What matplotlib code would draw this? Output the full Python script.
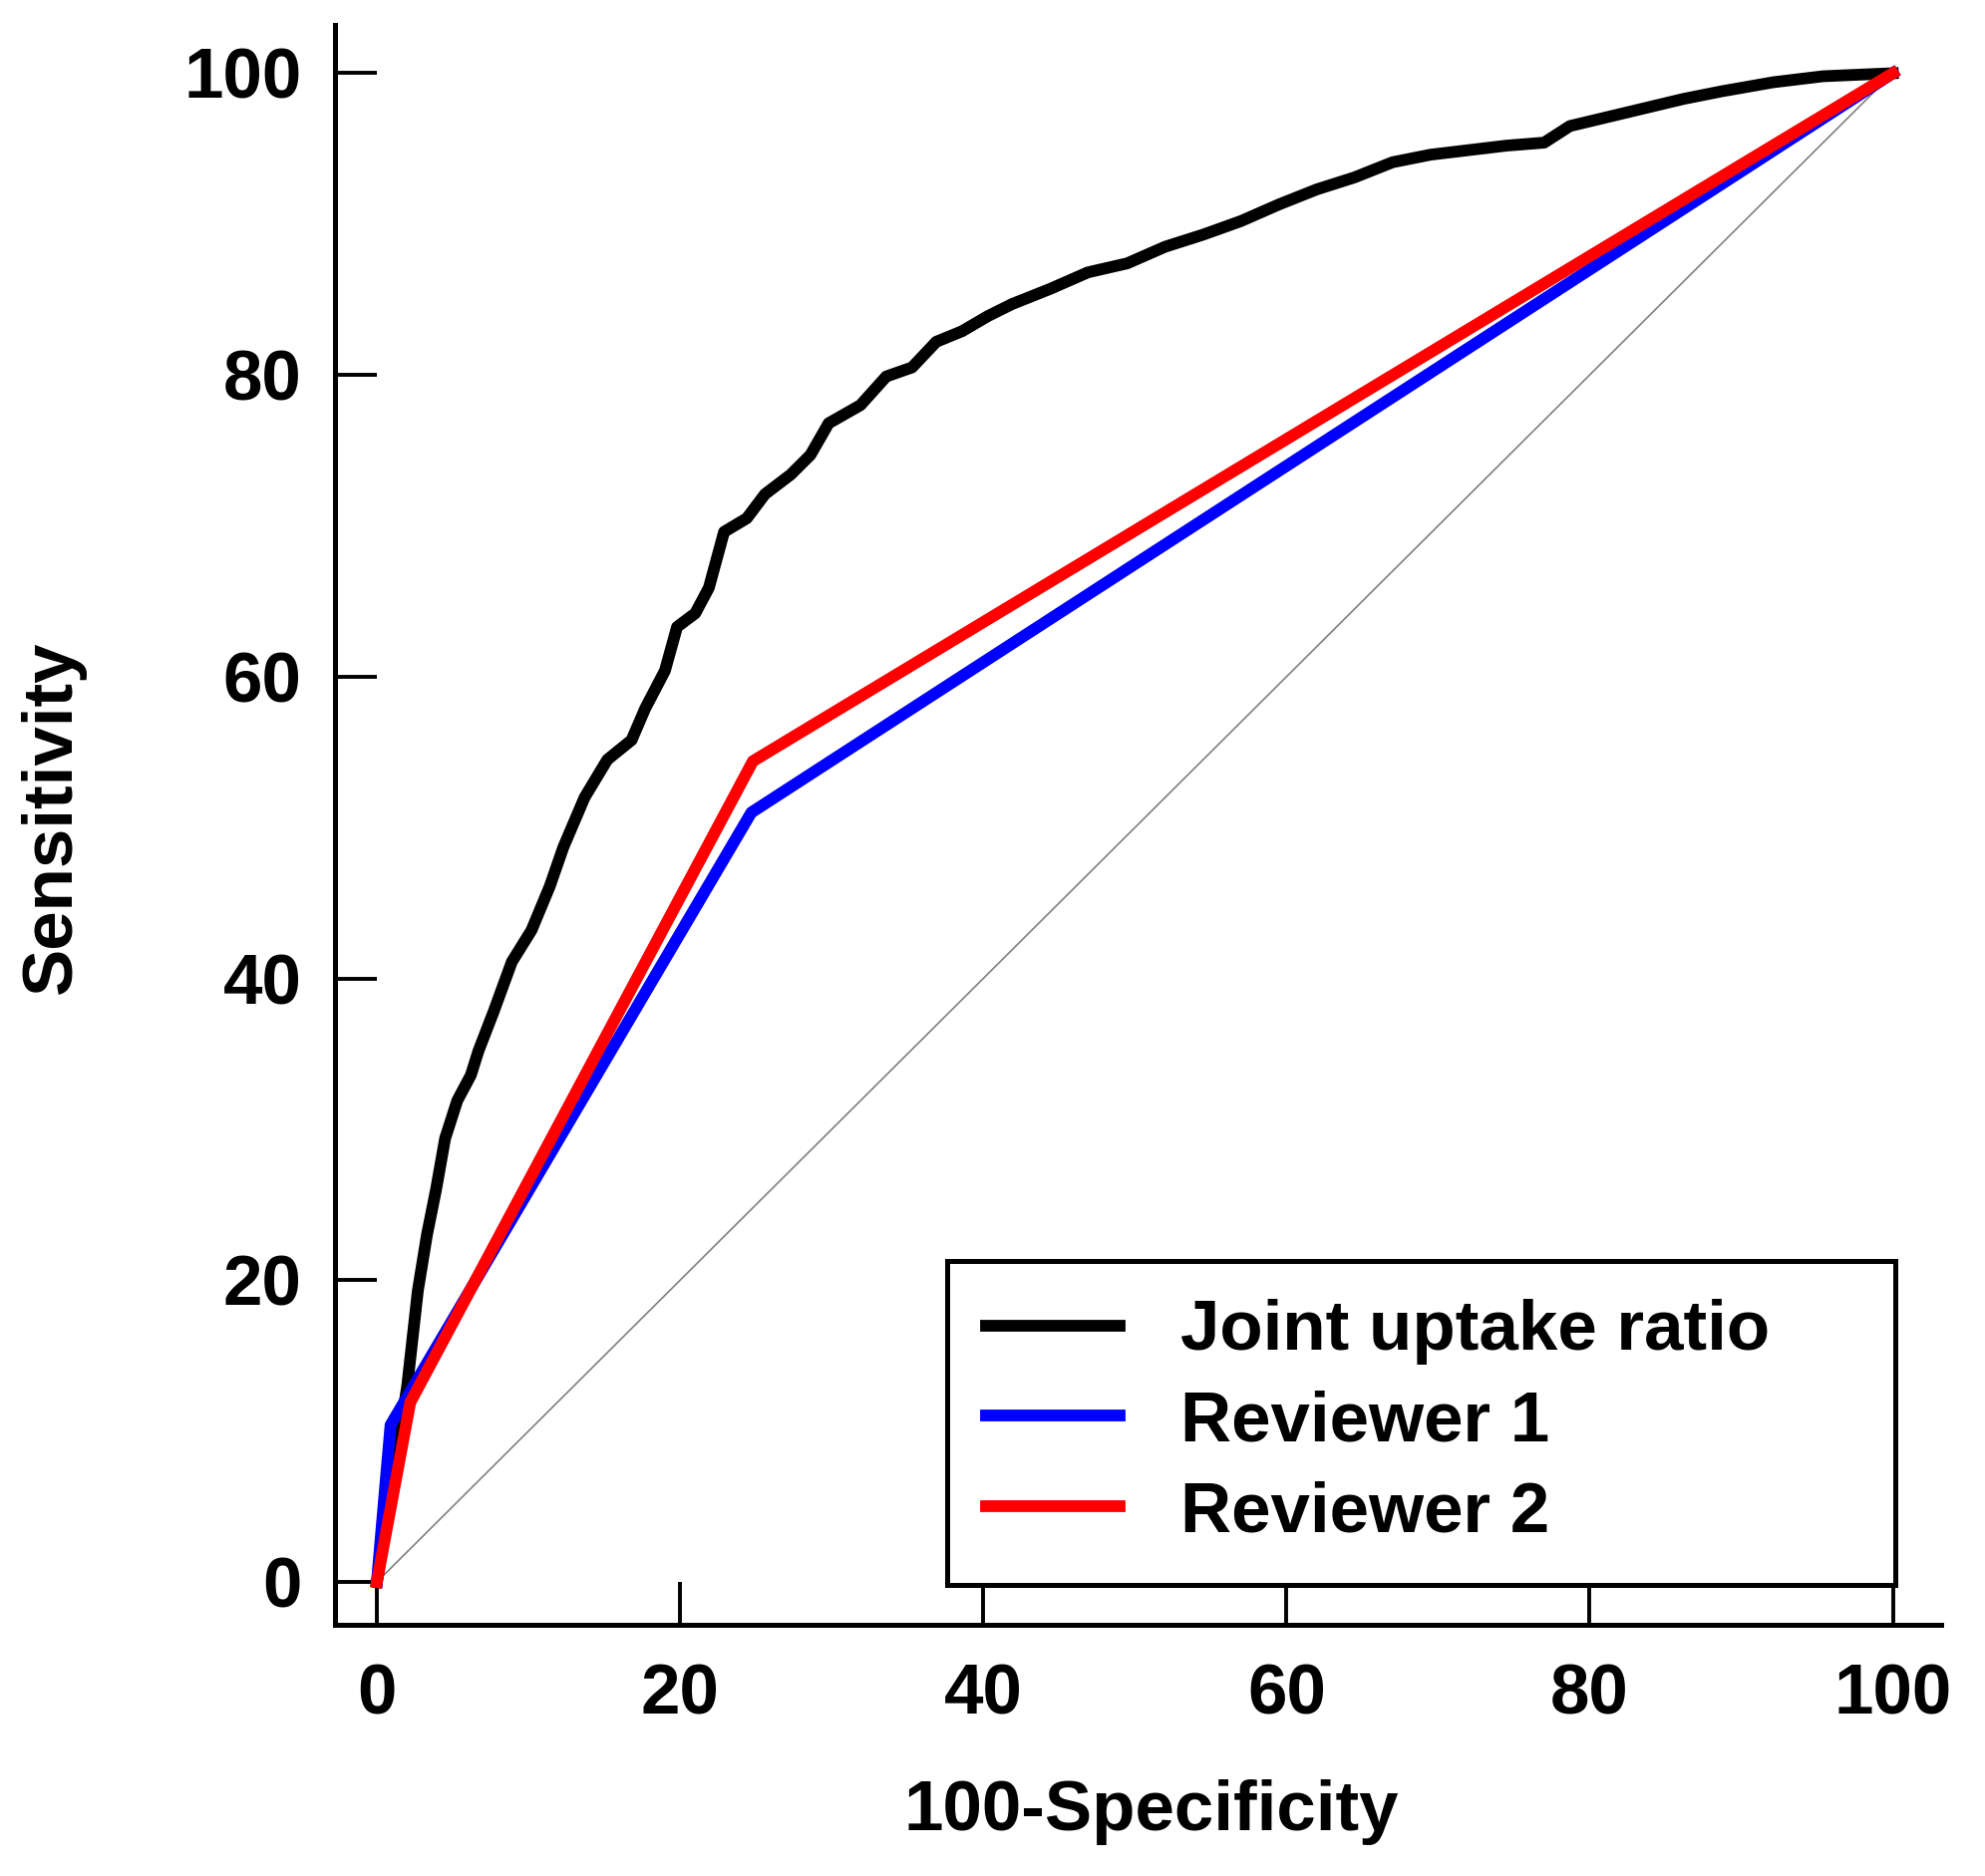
import matplotlib
matplotlib.use("Agg")
import matplotlib.pyplot as plt

# ROC curves (100-Specificity, Sensitivity)
joint_fpr = [0, 1.0, 2.0, 2.7, 3.3, 3.9, 4.5, 5.3, 6.2, 6.7, 7.7, 8.9, 10.2, 11.4, 12.3,
             13.7, 15.2, 16.8, 17.7, 19.0, 19.8, 21.0, 21.9, 22.9, 24.4, 25.6, 27.3,
             28.6, 29.8, 31.9, 33.6, 35.3, 36.9, 38.6, 40.3, 41.9, 44.4, 46.9, 49.5,
             52.0, 54.5, 57.0, 59.5, 62.0, 64.5, 67.0, 69.5, 72.0, 74.5, 77.0, 78.7,
             81.2, 83.7, 86.2, 88.7, 92.1, 95.4, 100]
joint_tpr = [0, 6.5, 13.0, 19.3, 23.0, 26.0, 29.4, 31.9, 33.6, 35.2, 37.8, 41.1, 43.2,
             46.1, 48.7, 52.0, 54.5, 55.8, 57.9, 60.4, 63.3, 64.2, 65.9, 69.6, 70.5,
             72.1, 73.4, 74.7, 76.8, 78.0, 79.9, 80.5, 82.2, 82.9, 83.9, 84.7, 85.7,
             86.8, 87.4, 88.5, 89.3, 90.2, 91.3, 92.3, 93.1, 94.1, 94.6, 94.9, 95.2,
             95.4, 96.5, 97.1, 97.7, 98.3, 98.8, 99.4, 99.8, 100]

rev1_fpr = [0, 0.9, 24.7, 100]
rev1_tpr = [0, 10.4, 51.0, 100]

rev2_fpr = [0, 2.2, 24.8, 100]
rev2_tpr = [0, 11.9, 54.4, 100]

ticks = [0, 20, 40, 60, 80, 100]

FONT = dict(family="Liberation Sans", weight="bold", size=51)
LW = 8.5


def main() -> None:
    plt.rcParams["font.family"] = "Liberation Sans"
    plt.rcParams["font.weight"] = "bold"

    fig = plt.figure(figsize=(19.91, 18.82), dpi=100)
    ax = fig.add_axes([0.1688, 0.1339, 0.8092, 0.8528])

    ax.plot([0, 100], [0, 100], color="#808080", lw=1.2, zorder=1)
    ax.plot(joint_fpr, joint_tpr, color="black", lw=LW, label="Joint uptake ratio", zorder=2)
    ax.plot(rev1_fpr, rev1_tpr, color="#0000ff", lw=LW, label="Reviewer 1", zorder=3)
    ax.plot(rev2_fpr, rev2_tpr, color="#ff0000", lw=LW, label="Reviewer 2", zorder=4)

    ax.set_xlim(-2.76, 103.2)
    ax.set_ylim(-2.84, 103.2)
    ax.set_xticks(ticks)
    ax.set_yticks(ticks)
    ax.set_xticklabels([str(t) for t in ticks], fontdict=FONT)
    ax.set_yticklabels([str(t) for t in ticks], fontdict=FONT)
    ax.tick_params(axis="x", direction="in", length=31, width=2.8, pad=28)
    ax.tick_params(axis="y", direction="in", length=30, width=2.8, pad=24)

    for side in ("top", "right"):
        ax.spines[side].set_visible(False)
    for side in ("left", "bottom"):
        ax.spines[side].set_linewidth(3.6)

    ax.set_xlabel("100-Specificity", fontdict=FONT)
    ax.set_ylabel("Sensitivity", fontdict=FONT)
    ax.xaxis.set_label_coords(0.508, -0.117)
    ax.xaxis.label.set_va("center")
    ax.yaxis.set_label_coords(-0.1757, 0.505)
    ax.yaxis.label.set_va("center")

    leg = ax.legend(
        loc="lower left",
        bbox_to_anchor=(0.3809, 0.0249, 0.5905, 0.2),
        mode="expand",
        borderaxespad=0,
        prop=dict(family="Liberation Sans", weight="bold", size=51),
        handlelength=1.9,
        handletextpad=0.85,
        labelspacing=0.35,
        borderpad=0.55,
        fancybox=False,
        framealpha=1,
        edgecolor="black",
    )
    leg.get_frame().set_linewidth(3.6)
    for line in leg.get_lines():
        line.set_linewidth(LW)

    fig.savefig("out.png", dpi=100)
    plt.close(fig)


if __name__ == "__main__":
    main()
